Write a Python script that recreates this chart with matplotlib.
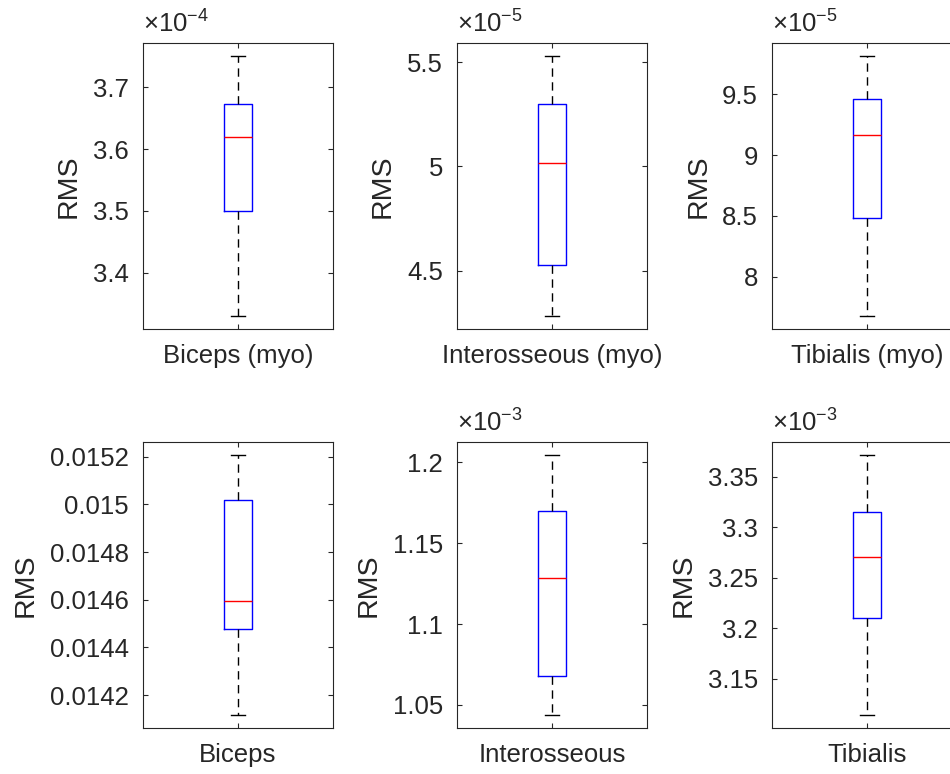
import matplotlib
matplotlib.use('Agg')

import matplotlib.pyplot as plt
from matplotlib.ticker import MultipleLocator, FuncFormatter

plt.rcParams['font.family'] = ['Liberation Sans', 'DejaVu Sans']
plt.rcParams['mathtext.fontset'] = 'custom'
plt.rcParams['mathtext.rm'] = 'Liberation Sans'
plt.rcParams['mathtext.it'] = 'Liberation Sans'

TXT = '#262626'

# box statistics per muscle
labels = ['Biceps (myo)', 'Interosseous (myo)', 'Tibialis (myo)',
          'Biceps', 'Interosseous', 'Tibialis']
whisker_low = [3.330e-4, 4.284e-5, 7.678e-5, 0.014117, 1.0438e-3, 3.1143e-3]
q1 = [3.500e-4, 4.527e-5, 8.481e-5, 0.014478, 1.068e-3, 3.2106e-3]
median = [3.619e-4, 5.016e-5, 9.164e-5, 0.014597, 1.1286e-3, 3.2706e-3]
q3 = [3.673e-4, 5.301e-5, 9.459e-5, 0.015018, 1.170e-3, 3.315e-3]
whisker_high = [3.7506e-4, 5.529e-5, 9.814e-5, 0.015207, 1.2046e-3, 3.3717e-3]
exponents = [-4, -5, -5, 0, -3, -3]
tick_steps = [0.1e-4, 0.5e-5, 0.5e-5, 0.0002, 0.05e-3, 0.05e-3]

fig = plt.figure(figsize=(9.5, 7.74), dpi=100)

lefts = [143, 457, 772]
tops = [43, 442]
W, H = 190, 286

for i in range(6):
    row, col = divmod(i, 3)
    ax = fig.add_axes([lefts[col] / 950, 1 - (tops[row] + H) / 774, W / 950, H / 774])

    stats = [{
        'whislo': whisker_low[i], 'q1': q1[i], 'med': median[i],
        'q3': q3[i], 'whishi': whisker_high[i], 'fliers': [],
    }]
    ax.bxp(stats, positions=[1], widths=0.15, capwidths=0.07, showfliers=False,
           boxprops=dict(color='#0000ff', linewidth=1.0),
           medianprops=dict(color='#ff0000', linewidth=1.0),
           whiskerprops=dict(color='black', linewidth=1.0, linestyle=(0, (6, 4))),
           capprops=dict(color='black', linewidth=1.0))

    rng = whisker_high[i] - whisker_low[i]
    ax.set_ylim(whisker_low[i] - 0.05 * rng, whisker_high[i] + 0.05 * rng)
    ax.set_xlim(0.5, 1.5)

    e = exponents[i]
    ax.yaxis.set_major_locator(MultipleLocator(tick_steps[i]))
    ax.yaxis.set_major_formatter(FuncFormatter(lambda v, p, e=e: '%g' % round(v / 10.0 ** e, 6)))
    ax.set_xticks([1])
    ax.set_xticklabels([labels[i]])

    ax.tick_params(direction='in', length=3.5, width=0.8, colors=TXT,
                   labelsize=18.5, top=True, right=True)
    ax.tick_params(axis='y', pad=10)
    ax.tick_params(axis='x', pad=11)
    for s in ax.spines.values():
        s.set_color(TXT)
        s.set_linewidth(0.8)

    ax.set_ylabel('RMS', fontsize=20.5, color=TXT, labelpad=8)

    if e != 0:
        ax.text(0.0, 1.02, r'$\times$10$^{%d}$' % e, transform=ax.transAxes,
                ha='left', va='bottom', fontsize=18.5, color=TXT)

fig.savefig('out.png', dpi=100)
